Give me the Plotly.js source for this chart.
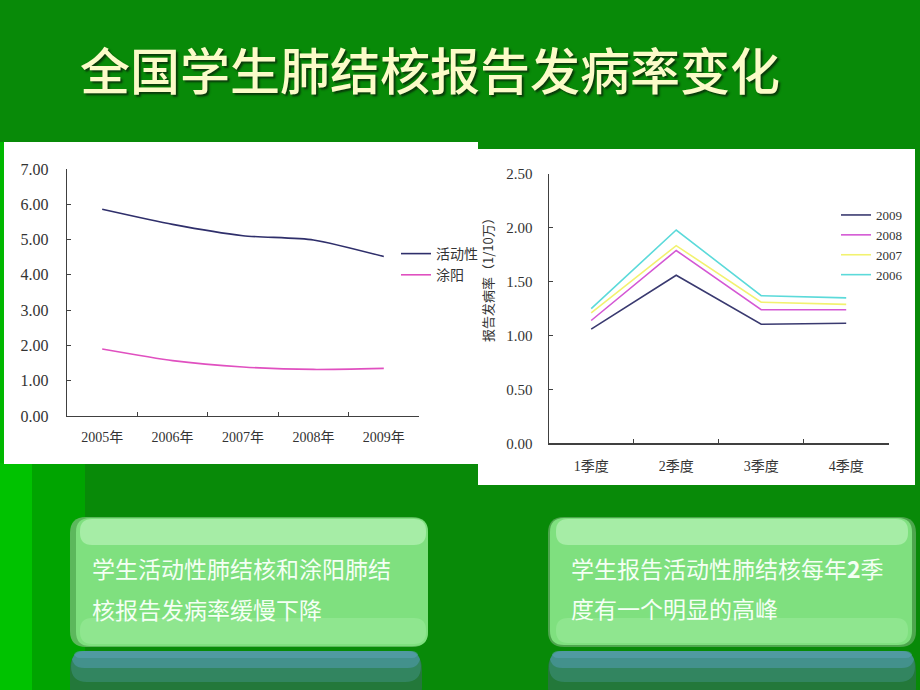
<!DOCTYPE html>
<html>
<head>
<meta charset="utf-8">
<script src="https://cdn.plot.ly/plotly-3.0.1.min.js"></script>
<style>html,body{margin:0;padding:0;background:#088a08;}#chart{width:920px;height:690px;}</style>
</head>
<body>
<div id="chart"></div>
<script>
// ---- data ----
const years = ['2005年', '2006年', '2007年', '2008年', '2009年'];
const active = [5.86, 5.43, 5.11, 4.99, 4.52];
const smearPos = [1.90, 1.57, 1.39, 1.32, 1.35];
const quarters = ['1季度', '2季度', '3季度', '4季度'];
const q2009 = [1.06, 1.56, 1.105, 1.114];
const q2008 = [1.14, 1.79, 1.24, 1.24];
const q2007 = [1.21, 1.835, 1.31, 1.29];
const q2006 = [1.25, 1.98, 1.37, 1.35];
const titleText = '全国学生肺结核报告发病率变化';
const yTitleRight = '报告发病率（1/10万）';
const box1Lines = ['学生活动性肺结核和涂阳肺结', '核报告发病率缓慢下降'];
const box2Lines = ['学生报告活动性肺结核每年<b>2</b>季', '度有一个明显的高峰'];

// ---- helpers (pixel -> paper) ----
const W = 920, H = 690;
const px = x => x / W;
const py = y => 1 - y / H;
function rrect(x0, y0, x1, y1, r) {
  const rx = r / W, ry = r / H;
  const X0 = px(x0), X1 = px(x1), Y0 = py(y1), Y1 = py(y0);
  return `M${X0 + rx},${Y0} L${X1 - rx},${Y0} Q${X1},${Y0} ${X1},${Y0 + ry} L${X1},${Y1 - ry} Q${X1},${Y1} ${X1 - rx},${Y1} L${X0 + rx},${Y1} Q${X0},${Y1} ${X0},${Y1 - ry} L${X0},${Y0 + ry} Q${X0},${Y0} ${X0 + rx},${Y0} Z`;
}
function rectShape(x0, y0, x1, y1, color) {
  return {type: 'rect', xref: 'paper', yref: 'paper', x0: px(x0), x1: px(x1), y0: py(y1), y1: py(y0),
    fillcolor: color, line: {width: 0}, layer: 'below'};
}
function pathShape(path, color, opacity) {
  return {type: 'path', xref: 'paper', yref: 'paper', path: path, fillcolor: color,
    line: {width: 0}, layer: 'below', opacity: opacity === undefined ? 1 : opacity};
}
function reflection(x0, x1) {
  return [
    pathShape(rrect(x0, 651, x1, 705, 18), '#23783a'),
    pathShape(rrect(x0 + 1, 651, x1 - 1, 682, 16), '#36886a', 0.8),
    pathShape(rrect(x0 + 2, 651, x1 - 2, 668, 12), '#4a96a0', 0.7),
    pathShape(rrect(x0 + 4, 651, x1 - 4, 658, 6), '#5aa0b0', 0.6)
  ];
}

const serif = 'Liberation Serif, "Noto Sans CJK SC", serif';
const traces = [
  {x: years, y: active, name: '活动性', type: 'scatter', mode: 'lines', xaxis: 'x', yaxis: 'y',
   line: {color: '#2f2f6b', width: 1.6, shape: 'spline', smoothing: 0.6}, legend: 'legend'},
  {x: years, y: smearPos, name: '涂阳', type: 'scatter', mode: 'lines', xaxis: 'x', yaxis: 'y',
   line: {color: '#e050c0', width: 1.6, shape: 'spline', smoothing: 0.6}, legend: 'legend'},
  {x: quarters, y: q2009, name: '2009', type: 'scatter', mode: 'lines', xaxis: 'x2', yaxis: 'y2',
   line: {color: '#3a3a70', width: 1.6}, legend: 'legend2'},
  {x: quarters, y: q2008, name: '2008', type: 'scatter', mode: 'lines', xaxis: 'x2', yaxis: 'y2',
   line: {color: '#d458d4', width: 1.6}, legend: 'legend2'},
  {x: quarters, y: q2007, name: '2007', type: 'scatter', mode: 'lines', xaxis: 'x2', yaxis: 'y2',
   line: {color: '#f2f270', width: 1.6}, legend: 'legend2'},
  {x: quarters, y: q2006, name: '2006', type: 'scatter', mode: 'lines', xaxis: 'x2', yaxis: 'y2',
   line: {color: '#5cdada', width: 1.6}, legend: 'legend2'}
];

const axisCommon = {showgrid: false, zeroline: false, showline: true, linecolor: '#404040', linewidth: 1.2,
  ticks: 'inside', ticklen: 4, tickcolor: '#404040', tickwidth: 1.2, fixedrange: true};

const shapes = [
  // left stripes
  rectShape(0, 463, 32, 690, '#00c200'),
  rectShape(32, 463, 85, 690, '#00a400'),
  rectShape(0, 142, 4, 463, '#00b800'),
  // white panels
  rectShape(4, 142, 478, 464, '#ffffff'),
  rectShape(478, 149, 915, 485, '#ffffff')
].concat(reflection(70, 422), reflection(548, 916), [
  // text boxes
  pathShape(rrect(70, 517, 428, 647, 16), '#5cb85c'),
  pathShape(rrect(76, 518, 428, 646, 14), '#7fe07f'),
  pathShape(rrect(80, 519, 426, 545, 12), '#a6eda6'),
  pathShape(rrect(80, 618, 426, 644, 12), '#8fe68f'),
  pathShape(rrect(548, 517, 916, 647, 16), '#4ea64e'),
  pathShape(rrect(550, 518, 912, 645, 14), '#7fe07f'),
  pathShape(rrect(556, 519, 908, 545, 12), '#a6eda6'),
  pathShape(rrect(556, 618, 908, 643, 12), '#8fe68f')
]);

const txtFont = {family: '"Noto Sans CJK SC", sans-serif', size: 23, color: '#f4fff4'};
const annotations = [
  {xref: 'paper', yref: 'paper', x: px(487), y: py(277), text: yTitleRight, textangle: -90,
   showarrow: false, xanchor: 'center', yanchor: 'middle',
   font: {family: '"Noto Sans CJK SC", sans-serif', size: 13, color: '#333333'}},
  {xref: 'paper', yref: 'paper', x: px(90), y: py(568), text: box1Lines[0], showarrow: false,
   xanchor: 'left', yanchor: 'middle', font: txtFont},
  {xref: 'paper', yref: 'paper', x: px(90), y: py(609), text: box1Lines[1], showarrow: false,
   xanchor: 'left', yanchor: 'middle', font: txtFont},
  {xref: 'paper', yref: 'paper', x: px(569), y: py(568), text: box2Lines[0], showarrow: false,
   xanchor: 'left', yanchor: 'middle', font: txtFont},
  {xref: 'paper', yref: 'paper', x: px(569), y: py(608), text: box2Lines[1], showarrow: false,
   xanchor: 'left', yanchor: 'middle', font: txtFont}
];

const layout = {
  width: W, height: H,
  margin: {l: 0, r: 0, t: 0, b: 0},
  paper_bgcolor: '#088a08',
  plot_bgcolor: 'rgba(0,0,0,0)',
  title: {text: titleText, x: px(80), xanchor: 'left', y: py(72), yanchor: 'middle', xref: 'paper', yref: 'paper',
    font: {family: '"Noto Sans CJK SC", sans-serif', size: 50, color: '#fbfbc8', weight: 500,
      shadow: '2px 2px 2px #0a3a0a'}},
  xaxis: Object.assign({}, axisCommon, {domain: [px(67), px(419)], anchor: 'y', type: 'category',
    range: [-0.5, 4.5], tickson: 'boundaries', ticklabelstandoff: 8,
    tickfont: {family: serif, size: 14, color: '#333333'}}),
  yaxis: Object.assign({}, axisCommon, {domain: [py(416), py(169)], anchor: 'x', range: [0, 7], dtick: 1,
    tickformat: '.2f', ticklabelstandoff: 14, tickfont: {family: serif, size: 16, color: '#333333'}}),
  xaxis2: Object.assign({}, axisCommon, {domain: [px(548.7), px(888.7)], anchor: 'y2', type: 'category',
    range: [-0.5, 3.5], tickson: 'boundaries', ticklabelstandoff: 10,
    tickfont: {family: serif, size: 14, color: '#333333'}}),
  yaxis2: Object.assign({}, axisCommon, {domain: [py(443.3), py(174)], anchor: 'x2', range: [0, 2.5], dtick: 0.5,
    tickformat: '.2f', ticklabelstandoff: 12, tickfont: {family: serif, size: 15, color: '#333333'}}),
  legend: {x: px(396), y: py(238), xanchor: 'left', yanchor: 'top', bgcolor: 'rgba(0,0,0,0)',
    font: {family: '"Noto Sans CJK SC", sans-serif', size: 14, color: '#333333'}, tracegroupgap: 0},
  legend2: {x: px(836), y: py(200), xanchor: 'left', yanchor: 'top', bgcolor: 'rgba(0,0,0,0)',
    font: {family: serif, size: 13, color: '#333333'}, tracegroupgap: 0},
  showlegend: true,
  shapes: shapes,
  annotations: annotations
};

Plotly.newPlot('chart', traces, layout, {displayModeBar: false, staticPlot: true});
</script>
</body>
</html>
